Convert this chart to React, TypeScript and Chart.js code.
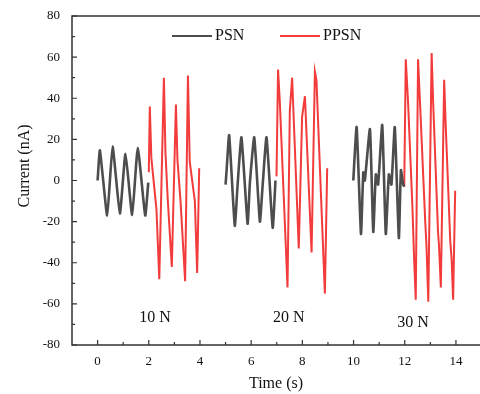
import React, { useEffect, useRef } from 'react';
import { Chart, registerables } from 'chart.js';

Chart.register(...registerables);

// ---- data ----
const psn10x = [0, 0.09, 0.375, 0.585, 0.87, 1.09, 1.35, 1.57, 1.86, 1.98];
const psn10y = [0, 14.6, -17, 16.5, -16, 13, -16.7, 15.9, -17, -1];

const ppsn10x = [2.0, 2.04, 2.1, 2.3, 2.41, 2.59, 2.65, 2.74, 2.9, 3.06, 3.12, 3.24, 3.42, 3.53, 3.6, 3.8, 3.89, 3.97];
const ppsn10y = [4, 36, 11, -14, -48, 50, 14, -9, -42, 37, 10, -10, -49, 51, 9, -10, -45, 6];

const psn20x = [5.0, 5.04, 5.14, 5.36, 5.47, 5.62, 5.86, 5.95, 6.12, 6.34, 6.45, 6.6, 6.84, 6.95];
const psn20y = [-2, 5, 22, -22, -2, 21, -21, -1, 21, -20, -2, 21, -23, 0];

const ppsn20x = [6.99, 7.05, 7.12, 7.28, 7.42, 7.51, 7.6, 7.86, 7.99, 8.1, 8.36, 8.49, 8.55, 8.88, 8.97];
const ppsn20y = [2, 54, 38, -10, -52, 34, 50, -33, 31, 41, -35, 53, 49, -55, 6];

const psn30x = [9.99, 10.12, 10.29, 10.38, 10.44, 10.64, 10.77, 10.87, 10.96, 11.12, 11.26, 11.38, 11.48, 11.61, 11.77, 11.85, 11.94, 11.98];
const psn30y = [0, 26, -26, 4, 0, 25, -25, 3, -2, 27, -26, 3, -2, 26, -28, 5, -2, -3];

const ppsn30x = [11.98, 12.04, 12.13, 12.3, 12.36, 12.43, 12.52, 12.61, 12.8, 12.85, 12.92, 13.05, 13.11, 13.3, 13.34, 13.41, 13.54, 13.6, 13.78, 13.83, 13.89, 13.97];
const ppsn30y = [-3, 59, 38, -13, -36, -58, 59, 34, -20, -32, -59, 62, 38, -25, -32, -52, 49, 27, -30, -38, -58, -5];

const xMajorTicks = [0, 2, 4, 6, 8, 10, 12, 14];
const xMinorTicks = [1, 3, 5, 7, 9, 11, 13];
const yMajorTicks = [-80, -60, -40, -20, 0, 20, 40, 60, 80];
const yMinorTicks = [-70, -50, -30, -10, 10, 30, 50, 70];

const forceLabels = ['10 N', '20 N', '30 N'];
const forceLabelX = [2.24, 7.47, 12.32];
const forceLabelY = [-67, -66.6, -69];

const seriesNames = ['PSN', 'PPSN'];
const seriesColors = ['#4d4d4d', '#f23b3b'];

const xTitle = 'Time (s)';
const yTitle = 'Current (nA)';

const FONT = '"Liberation Serif", "Times New Roman", serif';

function pts(xs: number[], ys: number[]) {
  return xs.map((x, i) => ({ x, y: ys[i] as number | null }));
}
function joinSegments(segs: { x: number; y: number | null }[][]) {
  const out: { x: number; y: number | null }[] = [];
  segs.forEach((s, i) => {
    if (i > 0) out.push({ x: (out[out.length - 1].x + s[0].x) / 2, y: null });
    out.push(...s);
  });
  return out;
}

const decorPlugin = {
  id: 'decor',
  afterDraw(chart: any) {
    const { ctx, chartArea, scales } = chart;
    const xs = scales.x;
    const ys = scales.y;
    ctx.save();
    // frame (top, left, bottom)
    ctx.strokeStyle = '#333';
    ctx.lineWidth = 1.5;
    ctx.beginPath();
    ctx.moveTo(chartArea.right + 5, chartArea.top);
    ctx.lineTo(chartArea.left, chartArea.top);
    ctx.lineTo(chartArea.left, chartArea.bottom);
    ctx.lineTo(chartArea.right + 5, chartArea.bottom);
    ctx.stroke();
    // ticks (inward)
    ctx.lineWidth = 1.2;
    ctx.beginPath();
    xMajorTicks.forEach((v) => {
      const px = xs.getPixelForValue(v);
      ctx.moveTo(px, chartArea.bottom);
      ctx.lineTo(px, chartArea.bottom - 5);
    });
    xMinorTicks.forEach((v) => {
      const px = xs.getPixelForValue(v);
      ctx.moveTo(px, chartArea.bottom);
      ctx.lineTo(px, chartArea.bottom - 3);
    });
    yMajorTicks.forEach((v) => {
      const py = ys.getPixelForValue(v);
      ctx.moveTo(chartArea.left, py);
      ctx.lineTo(chartArea.left + 5, py);
    });
    yMinorTicks.forEach((v) => {
      const py = ys.getPixelForValue(v);
      ctx.moveTo(chartArea.left, py);
      ctx.lineTo(chartArea.left + 3, py);
    });
    ctx.stroke();

    // axis titles
    ctx.fillStyle = '#111';
    ctx.font = `16px ${FONT}`;
    ctx.textAlign = 'center';
    ctx.textBaseline = 'middle';
    ctx.fillText(xTitle, (chartArea.left + chartArea.right) / 2, 384);
    ctx.save();
    ctx.translate(25, 166);
    ctx.rotate(-Math.PI / 2);
    ctx.fillText(yTitle, 0, 0);
    ctx.restore();

    // force labels
    forceLabels.forEach((t, i) => {
      ctx.fillText(t, xs.getPixelForValue(forceLabelX[i]), ys.getPixelForValue(forceLabelY[i]));
    });

    // legend
    const legX = [172, 280];
    ctx.textAlign = 'left';
    seriesNames.forEach((n, i) => {
      ctx.strokeStyle = seriesColors[i];
      ctx.lineWidth = 2;
      ctx.beginPath();
      ctx.moveTo(legX[i], 36);
      ctx.lineTo(legX[i] + 40, 36);
      ctx.stroke();
      ctx.fillStyle = '#111';
      ctx.fillText(n, legX[i] + 43, 36);
    });
    ctx.restore();
  },
};

export default function App() {
  const ref = useRef<HTMLCanvasElement>(null);
  useEffect(() => {
    if (!ref.current) return;
    const chart = new Chart(ref.current, {
      type: 'line',
      data: {
        datasets: [
          {
            label: seriesNames[0],
            data: joinSegments([pts(psn10x, psn10y), pts(psn20x, psn20y), pts(psn30x, psn30y)]),
            borderColor: seriesColors[0],
            borderWidth: 2.6,
            pointRadius: 0,
            tension: 0.15,
            spanGaps: false,
          },
          {
            label: seriesNames[1],
            data: joinSegments([pts(ppsn10x, ppsn10y), pts(ppsn20x, ppsn20y), pts(ppsn30x, ppsn30y)]),
            borderColor: seriesColors[1],
            borderWidth: 2,
            pointRadius: 0,
            tension: 0,
            spanGaps: false,
          },
        ],
      },
      options: {
        animation: false,
        responsive: false,
        devicePixelRatio: 1,
        layout: { autoPadding: false, padding: { top: 16, left: 0, right: 0, bottom: 0 } },
        plugins: { legend: { display: false }, tooltip: { enabled: false } },
        scales: {
          x: {
            type: 'linear',
            min: -1,
            max: 14.94,
            grid: { display: false, drawTicks: false },
            border: { display: false },
            afterBuildTicks: (s: any) => {
              s.ticks = xMajorTicks.map((v) => ({ value: v }));
            },
            afterFit: (s: any) => {
              s.height = 49;
              s.paddingLeft = 0;
              s.paddingRight = 0;
            },
            ticks: {
              color: '#111',
              font: { family: FONT, size: 13 },
              padding: 9,
              maxRotation: 0,
              autoSkip: false,
            },
          },
          y: {
            type: 'linear',
            min: -80,
            max: 80,
            grid: { display: false, drawTicks: false },
            border: { display: false },
            afterBuildTicks: (s: any) => {
              s.ticks = yMajorTicks.map((v) => ({ value: v }));
            },
            afterFit: (s: any) => {
              s.width = 72;
              s.paddingTop = 0;
              s.paddingBottom = 0;
            },
            ticks: {
              color: '#111',
              font: { family: FONT, size: 13 },
              padding: 12,
              autoSkip: false,
            },
          },
        },
      },
      plugins: [decorPlugin],
    } as any);
    return () => chart.destroy();
  }, []);
  return (
    <div style={{ position: 'fixed', left: 0, top: 0, width: 480, height: 394, background: '#fff' }}>
      <canvas ref={ref} width={480} height={394} style={{ display: 'block' }} />
    </div>
  );
}
